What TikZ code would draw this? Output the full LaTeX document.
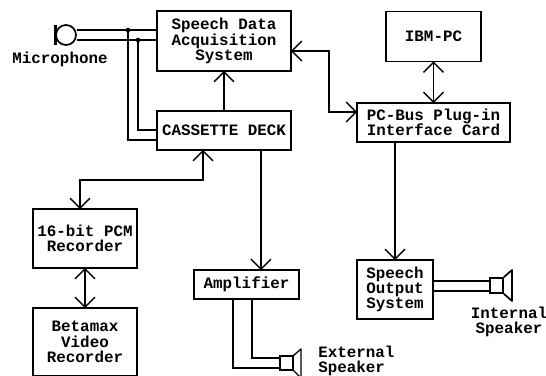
\documentclass[tikz,border=0pt]{standalone}
\usepackage{fontspec}
\setmonofont{Liberation Mono}
\usetikzlibrary{arrows.meta}
\pgfdeclarearrow{
  name=OpenVee,
  setup code={
    \pgfarrowssettipend{0pt}
    \pgfarrowssetlineend{0pt}
    \pgfarrowssetbackend{-7.5pt}
    \pgfarrowssetvisualbackend{0pt}
    \pgfarrowshullpoint{-7.5pt}{7.5pt}
    \pgfarrowshullpoint{-7.5pt}{-7.5pt}
    \pgfarrowshullpoint{0pt}{0pt}
  },
  drawing code={
    \pgfsetdash{}{0pt}
    \pgfpathmoveto{\pgfqpoint{-7.5pt}{7.5pt}}
    \pgfpathlineto{\pgfqpoint{0pt}{0pt}}
    \pgfpathlineto{\pgfqpoint{-7.5pt}{-7.5pt}}
    \pgfusepathqstroke
  }
}
\tikzset{
  x=0.75pt,y=-0.75pt,
  every node/.style={font=\ttfamily\bfseries\fontsize{11.9}{11.5}\selectfont,align=center,inner sep=0pt},
  wire/.style={line width=1pt,black},
  fat/.style={line width=1.3pt,black},
  boxn/.style={draw,line width=1.3pt,anchor=center},
  arr/.style={wire,-{OpenVee}},
  biarr/.style={wire,{OpenVee}-{OpenVee}},
  junct/.style={circle,fill=black,minimum size=3.5pt},
}
\begin{document}
\begin{tikzpicture}
\useasboundingbox (0,0) rectangle (546,375);
\clip (0,0) rectangle (546,375);
\node[boxn,minimum width=100.5pt,minimum height=45pt] (sda) at (224,41) {Speech Data\\Acquisition\\System};
\node[boxn,minimum width=100.5pt,minimum height=29.25pt] (cass) at (224,130.5) {CASSETTE DECK};
\node[boxn,minimum width=71.25pt,minimum height=37.5pt] (ibm) at (433.5,36.5) {IBM-PC};
\node[boxn,minimum width=114.75pt,minimum height=29.25pt] (bus) at (433.5,122.5) {PC-Bus Plug-in\\Interface Card};
\node[boxn,minimum width=78pt,minimum height=44.25pt] (rec) at (85,238.5) {16-bit PCM\\Recorder};
\node[boxn,minimum width=78pt,minimum height=51pt] (beta) at (85,342) {Betamax\\Video\\Recorder};
\node[boxn,minimum width=78.75pt,minimum height=21.75pt] (amp) at (246.5,284.5) {Amplifier};
\node[boxn,minimum width=57pt,minimum height=44.25pt] (out) at (395,289.5) {Speech\\Output\\System};
% labels
\node (miclab) at (60,59) {Microphone};
\node[anchor=west,align=left] (extlab) at (318,361) {External\\Speaker};
\node (intlab) at (509,322) {Internal\\Speaker};
% microphone
\node[draw,circle,line width=1.3pt,minimum size=15pt] (mic) at (66,35) {};
\coordinate (mt) at (55.5,24.5);
\coordinate (mb) at (55.5,44.5);
\draw[line width=1.8pt] (mt) -- (mb);
\draw[fat] (mic.west) -- (mic.west -| mt);
% mic wires
\coordinate (j1) at (128,30);
\coordinate (j2) at (138,40);
\draw[wire] (mic.east |- j1) -- (j1) -- (j1 -| sda.west);
\draw[fat] (mic.east |- j2) -- (j2) -- (j2 -| sda.west);
\node[junct] (dot1) at (j1) {};
\node[junct] (dot2) at (j2) {};
\coordinate (c1) at (128,140);
\coordinate (c2) at (138,130);
\draw[wire] (dot1.center) -- (c1) -- (c1 -| cass.west);
\draw[fat] (dot2.center) -- (c2) -- (c2 -| cass.west);
% main connectors
\draw[arr] (cass.north) -- (sda.south);
\coordinate (r1) at (80,180);
\coordinate (r2) at (203,180);
\draw[biarr] (rec.north -| r1) -- (r1) -- (r2) -- (cass.south -| r2);
\draw[biarr] (rec.south) -- (beta.north);
\coordinate (a1) at (261,200);
\draw[arr] (cass.south -| a1) -- (amp.north -| a1);
\coordinate (s1) at (329,51);
\coordinate (s2) at (329,112);
\draw[biarr] (s1 -| sda.east) -- (s1) -- (s2) -- (s2 -| bus.west);
\draw[biarr] (ibm.south) -- (bus.north);
\coordinate (o1) at (395,200);
\draw[arr] (bus.south -| o1) -- (out.north -| o1);
% internal speaker
\node[draw,line width=1.3pt,minimum width=9.75pt,minimum height=11.25pt] (ispk) at (496.5,285.5) {};
\coordinate (ih1) at (512,270);
\coordinate (ih2) at (512,301);
\draw[fat,line join=round] (ispk.north east) -- (ih1) -- (ih2) -- (ispk.south east);
\coordinate (il1) at (433,281);
\coordinate (il2) at (433,291);
\draw[fat] (il1 -| out.east) -- (il1 -| ispk.west);
\draw[wire] (il2 -| out.east) -- (il2 -| ispk.west);
% external speaker
\node[draw,line width=1pt,minimum width=9.75pt,minimum height=10.5pt] (espk) at (286.5,363) {};
\coordinate (eh1) at (301,349);
\coordinate (eh2) at (301,378);
\draw[wire,line join=round] (espk.north east) -- (eh1) -- (eh2) -- (espk.south east);
\coordinate (e1) at (252,358);
\coordinate (e2) at (233,368);
\draw[fat] (amp.south -| e1) -- (e1) -- (e1 -| espk.west);
\draw[wire] (amp.south -| e2) -- (e2) -- (e2 -| espk.west);
\end{tikzpicture}
\end{document}
